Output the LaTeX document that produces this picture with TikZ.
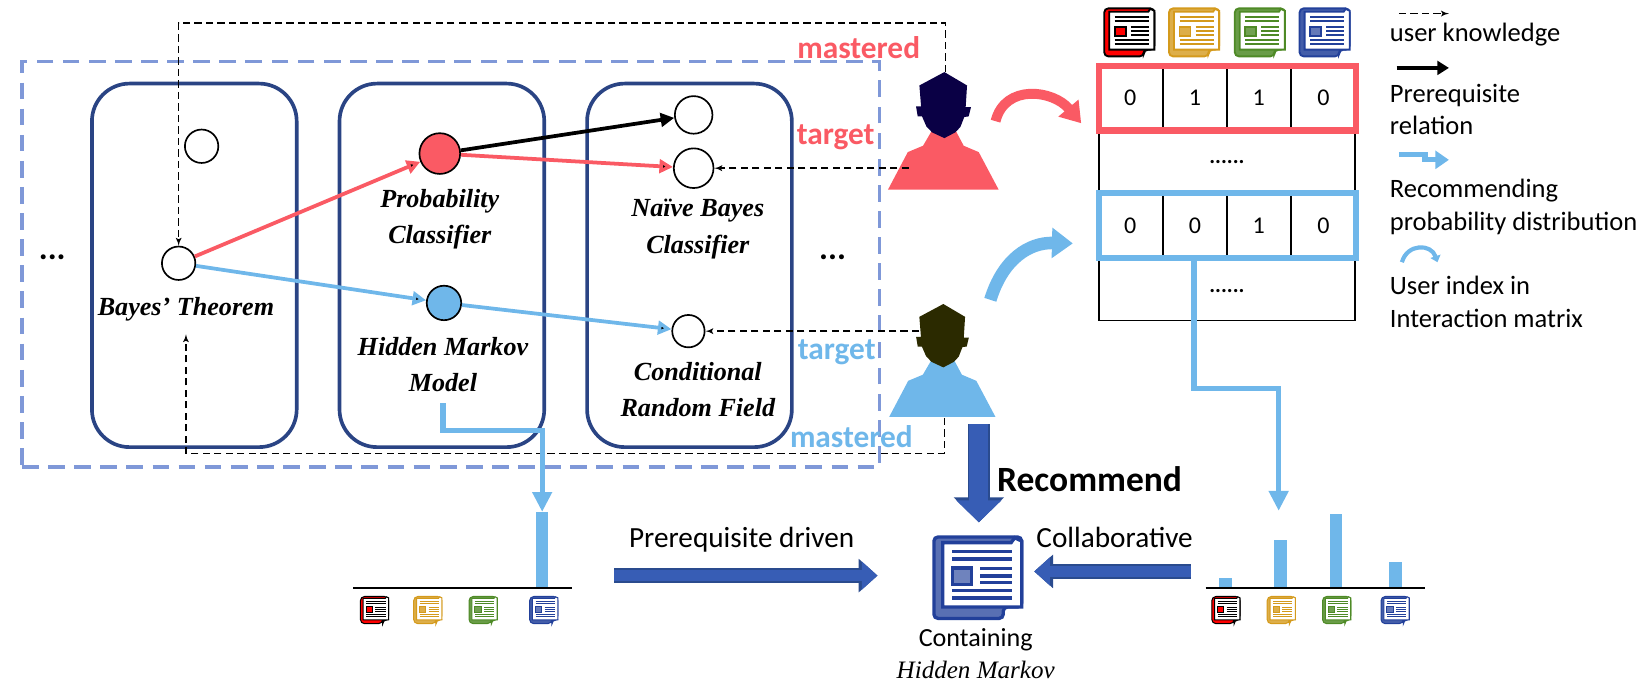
\documentclass[tikz,border=0pt]{standalone}
\usepackage{fontspec}
\setmainfont{Carlito}
\newfontfamily\conceptfont{Liberation Serif}
\usepackage{tikz}
\usetikzlibrary{arrows, arrows.meta, positioning, shapes}

\definecolor{redcol}{HTML}{FA5A64}
\definecolor{bluecol}{HTML}{6FB7EA}
\definecolor{navycol}{HTML}{2A4484}
\definecolor{framecol}{HTML}{7F98D8}
\definecolor{bigcol}{HTML}{375DB5}
\definecolor{bigedge}{HTML}{2A4B8E}
\definecolor{rednavy}{HTML}{0A0045}
\definecolor{blueolive}{HTML}{2B2A00}
\definecolor{goldcol}{HTML}{D49A1C}
\definecolor{greencol}{HTML}{4E8A26}
\definecolor{doccol}{HTML}{22409A}

\tikzset{
  concept/.style={draw, circle, inner sep=0pt, line width=1.6pt},
  topicbox/.style={draw=navycol, rectangle, rounded corners=36pt, line width=3.5pt, minimum width=196pt, minimum height=348pt},
  conceptname/.style={align=center, font=\conceptfont\itshape\bfseries\fontsize{25}{35}\selectfont},
  plain/.style={font=\fontsize{25.4}{31}\selectfont, align=left, anchor=west},
  redtag/.style={text=redcol, font=\bfseries\fontsize{30}{30}\selectfont},
  bluetag/.style={text=bluecol, font=\bfseries\fontsize{30}{30}\selectfont},
  cell/.style={draw, line width=1.2pt, rectangle, minimum width=61.3pt, minimum height=62pt, font=\fontsize{23}{25}\selectfont},
  gaprow/.style={draw, line width=1.2pt, rectangle, minimum width=245pt, minimum height=60pt, font=\bfseries\fontsize{21}{25}\selectfont},
  rowbox/.style={rectangle, line width=6pt, minimum width=246pt, minimum height=62pt},
  knows/.style={draw, dash pattern=on 7pt off 4pt, line width=1.6pt, -latex'},
  rel/.style={draw, line width=3.6pt, -{Triangle[width=13pt,length=13pt]}},
  flow/.style={draw=bluecol, line width=5pt, -{Triangle[width=18pt,length=19pt]}},
  bigarrow/.style={draw=bigcol, line width=11pt, -{Triangle[width=26pt,length=15pt]},
    preaction={draw=bigedge, line width=14pt, -{Triangle[width=31pt,length=18pt]}}},
  pics/person/.style n args={2}{code={
    \fill [#2] (-54,112.6) -- (-35,76.6) -- (-20.4,70.5) -- (-12.4,56.8) -- (11.2,56.8) -- (18.5,70.5) -- (32.9,76.6) -- (52,112.6) -- cycle;
    \fill [#1] (0,0) -- (21.7,12.8) -- (20.4,33.5) -- (25.5,33.5) -- (23.3,42.4) -- (19.1,43) -- (15.3,52.6) -- (10.5,57.7) -- (0,63.2)
      -- (-11.8,57.7) -- (-17.2,52) -- (-21.4,42.4) -- (-25.5,42.4) -- (-27.1,32.9) -- (-22.3,32.9) -- (-23.9,12.8) -- cycle;
  }},
  pics/paper/.style n args={4}{code={
    \path [fill=#2, draw=#1, line width=#4, rounded corners=4pt] (0,0) -- (100,0) -- (100,86) -- (79,86) -- (79,100) -- (0,100) -- cycle;
    \path [fill=white, draw=#1, line width=#4] (10,7) -- (88,7) -- (92,1) -- (100,5) -- (100,86) -- (10,86) -- cycle;
    \path [draw=#1, line width=#4] (21,18) -- (89,18) (21,27) -- (89,27) (53,39) -- (89,39) (53,48) -- (89,48) (53,56) -- (89,56) (21,66) -- (89,66) (21,75) -- (89,75);
    \path [fill=#3, draw=#1, line width=#4] (21,38) rectangle (43,58);
  }},
}

\begin{document}
\begin{tikzpicture}[x=1pt, y=-1pt]
\useasboundingbox (0,0) rectangle (1568,662);

% topics
\node [draw=framecol, rectangle, line width=3.5pt, dash pattern=on 16pt off 9pt, minimum width=821pt, minimum height=388pt] (frame) at (431.5,253) {};
\node [topicbox] (box1) at (186,254) {};
\node [topicbox] (box2) at (423,254) {};
\node [topicbox] (box3) at (660,254) {};

\node [concept, minimum size=32pt            ] (extra)   at (193,140) {};
\node [concept, minimum size=32pt            ] (bayes)   at (171,252) {};
\node [concept, minimum size=39pt, fill=redcol ] (prob)    at (421,147) {};
\node [concept, minimum size=33pt, fill=bluecol] (hmm)     at (425,290) {};
\node [concept, minimum size=36pt            ] (upper)   at (664,110) {};
\node [concept, minimum size=38pt            ] (naive)   at (664,161) {};
\node [concept, minimum size=31pt            ] (crf)     at (659,317) {};

\node [conceptname] (bayesname) at (178,296) {Bayes’ Theorem};
\node [conceptname] (probname)  at (421,210) {Probability\\Classifier};
\node [conceptname] (hmmname)   at (424,349) {Hidden Markov\\Model};
\node [conceptname] (naivename) at (668,219) {Naïve Bayes\\Classifier};
\node [conceptname] (crfname)   at (668,373) {Conditional\\Random Field};

\node [font=\bfseries\fontsize{32}{32}\selectfont] (dotsl) at (50,246) {...};
\node [font=\bfseries\fontsize{32}{32}\selectfont] (dotsr) at (797,246) {...};

\path [rel, draw=redcol ] (bayes) edge (prob);
\path [rel, draw=bluecol] (bayes) edge (hmm);
\path [rel, draw=black  ] (prob)  edge (upper);
\path [rel, draw=redcol ] (prob)  edge (naive);
\path [rel, draw=bluecol] (hmm)   edge (crf);

% users
\pic at (904,69) {person={rednavy}{redcol}};
\pic [scale=0.96] at (903,291) {person={blueolive}{bluecol}};

\coordinate (redtop)   at (905,69);
\coordinate (redside)  at (870,161);
\coordinate (blueside) at (880,317);
\coordinate (bluefoot) at (904,400);
\coordinate (bayesfoot) at (178,320);

\path [knows] (redtop) -- (905,22) -| (bayes);
\path [knows] (redside) -- (naive);
\path [knows] (blueside) -- (crf);
\path [knows] (bluefoot) |- (178,434) -- (bayesfoot);

\node [redtag ] (mastered1) at (822,46)  {mastered};
\node [redtag ] (target1)   at (800,131) {target};
\node [bluetag] (target2)   at (801,337) {target};
\node [bluetag] (mastered2) at (815,418) {mastered};

% interaction matrix
\pic [xscale=0.48, yscale=0.46] at (1057,8) {paper={black}{red}{red}{1.8pt}};
\pic [xscale=0.48, yscale=0.46] at (1119,8) {paper={goldcol}{goldcol!80}{goldcol!80}{1.8pt}};
\pic [xscale=0.48, yscale=0.46] at (1182,8) {paper={greencol}{greencol!85}{greencol!80}{1.8pt}};
\pic [xscale=0.48, yscale=0.46] at (1244,8) {paper={doccol}{doccol!85}{doccol!70}{1.8pt}};

\node [cell] (a1) at (1082,94)  {0};
\node [cell] (a2) at (1144,94)  {1};
\node [cell] (a3) at (1205,94)  {1};
\node [cell] (a4) at (1267,94)  {0};
\node [gaprow] (gap1) at (1174.5,155) {\raisebox{-4pt}{......}};
\node [cell] (b1) at (1082,216) {0};
\node [cell] (b2) at (1144,216) {0};
\node [cell] (b3) at (1205,216) {1};
\node [cell] (b4) at (1267,216) {0};
\node [gaprow] (gap2) at (1174.5,277) {\raisebox{-6pt}{......}};

\node [rowbox, draw=redcol ] (redrow)  at (1175,94)  {};
\node [rowbox, draw=bluecol] (bluerow) at (1175,216) {};

\coordinate (redfrom)  at (953,116);
\coordinate (redto)    at (1035,118);
\coordinate (bluefrom) at (948,287);
\coordinate (blueto)   at (1027,233);

\path [draw=redcol , line width=9.5pt, -{Triangle[width=24pt,length=19pt]}] (redfrom) .. controls (962,80) and (1008,86) .. (redto);
\path [draw=bluecol, line width=12pt, -{Triangle[width=28pt,length=20pt]}] (bluefrom) .. controls (960,248) and (985,232) .. (blueto);

% distributions
\coordinate (colbar) at (1224,489);
\coordinate (hmmfoot) at (424,386);
\coordinate (colbend) at (1143,372);
\coordinate (hmmtip) at (519,490);

\path [flow] (1143,247) -- (colbend) -| (colbar);
\path [flow] (hmmfoot) |- (519,412) -- (hmmtip);

\node [draw=none, fill=bluecol, minimum width=12pt, minimum height=73pt, inner sep=0pt] (barl) at (519,526.5) {};
\node [draw=none, fill=bluecol, minimum width=12pt, minimum height=10pt, inner sep=0pt] (bar1) at (1173,558)   {};
\node [draw=none, fill=bluecol, minimum width=12pt, minimum height=46pt, inner sep=0pt] (bar2) at (1226,540)   {};
\node [draw=none, fill=bluecol, minimum width=12pt, minimum height=71pt, inner sep=0pt] (bar3) at (1279,527.5) {};
\node [draw=none, fill=bluecol, minimum width=12pt, minimum height=25pt, inner sep=0pt] (bar4) at (1336,550.5) {};

\coordinate (axisl1) at (338,563);
\coordinate (axisl2) at (548,563);
\coordinate (axisr1) at (1154,563);
\coordinate (axisr2) at (1364,563);
\path [draw, line width=2.5pt] (axisl1) -- (axisl2);
\path [draw, line width=2.5pt] (axisr1) -- (axisr2);

\pic [xscale=0.27, yscale=0.26] at (345,571)  {paper={black}{red}{red}{1pt}};
\pic [xscale=0.27, yscale=0.26] at (396,571)  {paper={goldcol}{goldcol!80}{goldcol!80}{1pt}};
\pic [xscale=0.27, yscale=0.26] at (449,571)  {paper={greencol}{greencol!85}{greencol!80}{1pt}};
\pic [xscale=0.27, yscale=0.26] at (507,571)  {paper={doccol}{doccol!85}{doccol!70}{1pt}};
\pic [xscale=0.27, yscale=0.26] at (1160,571) {paper={black}{red}{red}{1pt}};
\pic [xscale=0.27, yscale=0.26] at (1213,571) {paper={goldcol}{goldcol!80}{goldcol!80}{1pt}};
\pic [xscale=0.27, yscale=0.26] at (1266,571) {paper={greencol}{greencol!85}{greencol!80}{1pt}};
\pic [xscale=0.27, yscale=0.26] at (1322,571) {paper={doccol}{doccol!85}{doccol!70}{1pt}};

% recommendation
\pic [xscale=0.84, yscale=0.78] at (894,514) {paper={doccol}{doccol!75}{doccol!65}{3.2pt}};

\coordinate (prereqfrom) at (588,551);
\coordinate (prereqto)   at (840,551);
\coordinate (collabfrom) at (1140,547);
\coordinate (collabto)   at (990,547);
\coordinate (recfrom)    at (937,406);
\coordinate (recto)      at (937,500);

\path [bigarrow] (prereqfrom) -- (prereqto);
\path [bigarrow] (collabfrom) -- (collabto);
\path [bigarrow, line width=18pt, -{Triangle[width=42pt,length=21pt]}, preaction={draw=bigedge, line width=21pt, -{Triangle[width=47pt,length=24pt]}}] (recfrom) -- (recto);

\node [font=\bfseries\fontsize{34}{34}\selectfont] (recommend) at (1043,459) {Recommend};
\node [font=\fontsize{28}{28}\selectfont] (prereqtext) at (710,517) {Prerequisite driven};
\node [font=\fontsize{28}{28}\selectfont] (collabtext) at (1067,514) {Collaborative};
\node [font=\fontsize{25}{25}\selectfont] (containing) at (934,612) {Containing};
\node [font=\conceptfont\itshape\fontsize{24}{24}\selectfont, below of=containing, node distance=29pt] (markov) {Hidden Markov};

% legend
\coordinate (leg1a) at (1339,13);
\coordinate (leg1b) at (1387,13);
\coordinate (leg2a) at (1337,65);
\coordinate (leg2b) at (1387,65);
\coordinate (leg3a) at (1339,148);
\coordinate (leg3b) at (1387,153);
\coordinate (leg4a) at (1342,251);
\coordinate (leg4b) at (1376,251);

\path [knows] (leg1a) -- (leg1b);
\path [draw, line width=3.4pt, -{Triangle[width=13pt,length=11pt]}] (leg2a) -- (leg2b);
\path [draw=bluecol, line width=5pt, -{Triangle[width=17pt,length=13pt]}] (leg3a) -- (1364,148) -- (1364,153) -- (leg3b);
\path [draw=bluecol, line width=4pt, -{Triangle[width=10pt,length=6pt]}] (leg4a) .. controls (1347,233) and (1370,233) .. (leg4b);

\node [plain] (leg1) at (1327,33)  {user knowledge};
\node [plain] (leg2) at (1327,105) {Prerequisite\\relation};
\node [plain] (leg3) at (1327,198) {Recommending\\probability distribution};
\node [plain] (leg4) at (1327,289) {User index in\\Interaction matrix};

\end{tikzpicture}
\end{document}
